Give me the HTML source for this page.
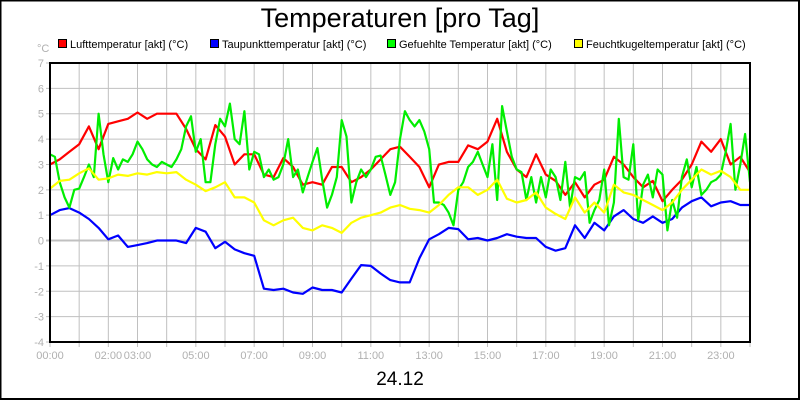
<!DOCTYPE html>
<html><head><meta charset="utf-8"><style>
html,body{margin:0;padding:0;background:#fff}
svg{display:block;font-family:"Liberation Sans",sans-serif}
</style></head><body>
<svg id="chart" width="800" height="400" viewBox="0 0 800 400">
<rect x="0.5" y="0.5" width="798.5" height="398.5" fill="#fff" stroke="#000" stroke-width="2"/>
<text x="400" y="27" font-size="27" text-anchor="middle">Temperaturen [pro Tag]</text>
<g font-size="11">
<g><rect x="58.5" y="39.5" width="8" height="8" fill="#f00" stroke="#000"/><text x="70" y="48">Lufttemperatur [akt] (°C)</text></g>
<g><rect x="210.5" y="39.5" width="8" height="8" fill="#00f" stroke="#000"/><text x="222" y="48">Taupunkttemperatur [akt] (°C)</text></g>
<g><rect x="387.5" y="39.5" width="8" height="8" fill="#0f0" stroke="#000"/><text x="399" y="48">Gefuehlte Temperatur [akt] (°C)</text></g>
<g><rect x="574.5" y="39.5" width="8" height="8" fill="#ff0" stroke="#000"/><text x="586" y="48">Feuchtkugeltemperatur [akt] (°C)</text></g>
</g>
<text x="37" y="52" font-size="11" fill="#b0b0b0">°C</text>
<g id="grid"></g>
<g id="series"></g>
<rect x="50" y="63" width="700" height="279" fill="none" stroke="#000" stroke-width="2"/>
<text x="400" y="385" font-size="19" text-anchor="middle">24.12</text>
</svg>
<script>
const yTicks = [-4,-3,-2,-1,0,1,2,3,4,5,6,7];
const xLabels = ["00:00","","02:00","03:00","","05:00","","07:00","","09:00","","11:00","","13:00","","15:00","","17:00","","19:00","","21:00","","23:00"];
const stepMinutesCoarse = 20;
const stepMinutesFine = 10;
const luft = [3.0,3.2,3.5,3.8,4.5,3.6,4.6,4.7,4.8,5.05,4.8,5.0,5.0,5.0,4.4,3.6,3.2,4.55,4.1,3.0,3.4,3.4,2.6,2.5,3.25,2.9,2.2,2.3,2.2,2.9,2.9,2.3,2.5,2.8,3.2,3.6,3.7,3.3,2.9,2.1,3.0,3.1,3.1,3.75,3.6,3.9,4.8,3.5,2.8,2.5,3.4,2.6,2.35,1.8,2.3,1.7,2.2,2.4,3.3,3.0,2.5,2.1,2.35,1.55,2.0,2.4,3.0,3.9,3.5,4.0,3.0,3.3,2.7];
const taupunkt = [1.0,1.2,1.28,1.1,0.85,0.5,0.05,0.2,-0.25,-0.18,-0.1,0.0,0.0,0.0,-0.1,0.5,0.35,-0.3,-0.05,-0.35,-0.5,-0.6,-1.9,-1.95,-1.9,-2.05,-2.1,-1.85,-1.95,-1.95,-2.05,-1.5,-0.97,-1.0,-1.3,-1.56,-1.65,-1.65,-0.7,0.05,0.25,0.5,0.45,0.05,0.1,0.0,0.1,0.25,0.15,0.1,0.1,-0.25,-0.4,-0.3,0.6,0.1,0.7,0.4,0.95,1.2,0.85,0.7,0.95,0.7,0.85,1.3,1.55,1.7,1.35,1.5,1.55,1.4,1.4];
const feucht = [2.05,2.35,2.4,2.65,2.85,2.4,2.45,2.6,2.55,2.65,2.6,2.7,2.65,2.7,2.4,2.2,1.95,2.1,2.3,1.7,1.7,1.5,0.8,0.6,0.8,0.9,0.5,0.4,0.6,0.5,0.3,0.7,0.9,1.0,1.1,1.3,1.4,1.25,1.2,1.1,1.4,1.8,2.1,2.1,1.8,2.0,2.4,1.65,1.5,1.6,1.9,1.3,1.05,0.85,1.7,1.1,1.5,1.1,2.2,1.9,1.8,1.6,1.4,1.2,1.5,2.0,2.4,2.8,2.6,2.75,2.5,2.0,2.0];
const gefuehlt = [3.4,3.3,2.3,1.7,1.3,2.0,2.05,2.5,3.0,2.5,5.0,3.4,2.3,3.25,2.8,3.2,3.1,3.4,3.9,3.6,3.2,3.0,2.9,3.1,3.0,2.9,3.2,3.6,4.5,4.9,3.5,4.0,2.3,2.3,3.8,4.8,4.5,5.4,4.0,3.8,5.1,2.8,3.5,3.4,2.5,2.8,2.4,2.5,3.0,4.0,2.5,2.8,1.9,2.5,3.1,3.65,2.4,1.3,1.8,2.5,4.75,4.1,1.5,2.3,2.8,2.5,2.8,3.3,3.35,2.6,1.8,2.3,4.0,5.1,4.75,4.5,4.75,4.3,3.6,1.5,1.5,1.4,1.1,0.6,2.0,2.3,2.9,3.1,3.5,3.0,2.5,3.8,1.6,5.3,4.3,3.3,2.8,2.7,1.6,2.5,1.5,2.5,1.7,2.8,2.5,1.6,3.1,1.3,2.5,2.4,2.7,0.7,1.2,1.6,2.8,0.6,1.5,4.8,2.5,2.4,3.8,0.8,2.2,2.6,1.7,2.8,2.6,0.4,1.6,0.9,2.5,3.2,2.1,2.9,1.8,2.0,2.3,2.4,2.6,3.5,4.6,2.0,3.0,4.2,2.3];

const NS = "http://www.w3.org/2000/svg";
const X0 = 50, X1 = 750, Y0 = 63, Y1 = 342, YMIN = -4, YMAX = 7, HOURS = 24;
function xScale(minutes){ return X0 + minutes / (HOURS*60) * (X1 - X0); }
function yScale(v){ return Y1 - (v - YMIN) / (YMAX - YMIN) * (Y1 - Y0); }
function mk(tag, attrs){ const e = document.createElementNS(NS, tag); for (const k in attrs) e.setAttribute(k, attrs[k]); return e; }

const grid = document.getElementById('grid');
yTicks.forEach(v => {
  const y = yScale(v);
  const l = mk('line', {x1: X0-4, x2: X1, y1: y, y2: y, stroke: '#c0c0c0', 'stroke-width': v === 0 ? 2 : 1});
  
  
  grid.appendChild(l);
  const t = mk('text', {x: X0-6, y: y+4, 'font-size': 11, fill: '#b0b0b0', 'text-anchor': 'end'});
  t.textContent = v;
  
  
  grid.appendChild(t);
});
for (let h = 0; h <= HOURS; h++) {
  const x = xScale(h*60);
  const l = mk('line', {x1: x, x2: x, y1: Y0, y2: Y1+5, stroke: '#c0c0c0', 'stroke-width': 1});
  
  
  grid.appendChild(l);
  if (xLabels[h]) {
    const t = mk('text', {x: x, y: Y1+17, 'font-size': 11, fill: '#b0b0b0', 'text-anchor': 'middle'});
    t.textContent = xLabels[h];
    
    
    grid.appendChild(t);
  }
}
const series = document.getElementById('series');
function drawLine(vals, step, color, name){
  const pts = vals.map((v,i) => xScale(i*step).toFixed(1) + ',' + yScale(v).toFixed(1)).join(' ');
  const p = mk('polyline', {points: pts, fill: 'none', stroke: color, 'stroke-width': 2.2, 'stroke-linejoin': 'round'});
  
  
  series.appendChild(p);
}
drawLine(luft, stepMinutesCoarse, '#ff0000', 'line-lufttemperatur');
drawLine(taupunkt, stepMinutesCoarse, '#0000ff', 'line-taupunkttemperatur');
drawLine(gefuehlt, stepMinutesFine, '#00ee00', 'line-gefuehlte-temperatur');
drawLine(feucht, stepMinutesCoarse, '#ffff00', 'line-feuchtkugeltemperatur');
</script>
</body></html>
